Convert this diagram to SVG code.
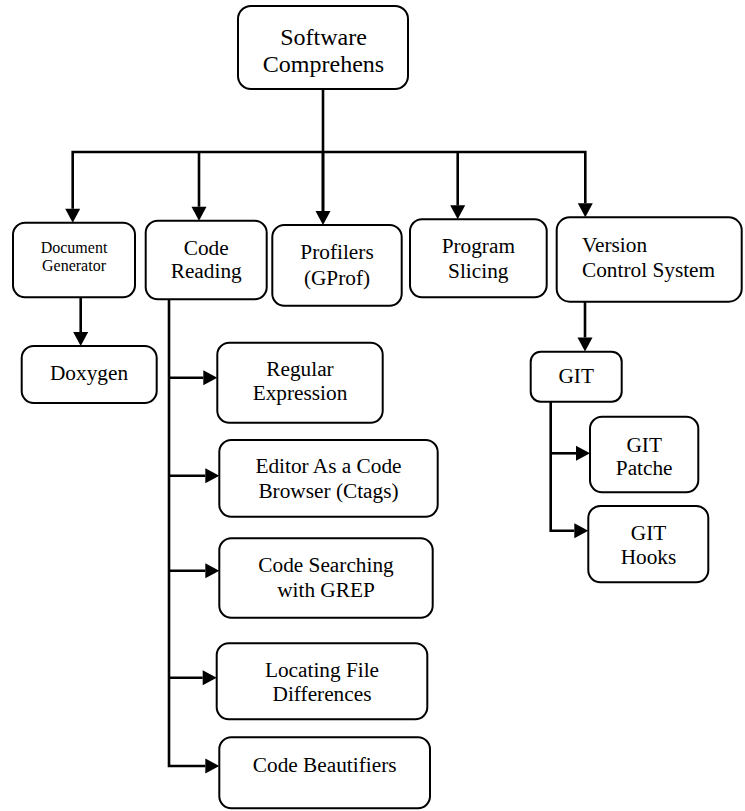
<svg xmlns="http://www.w3.org/2000/svg" width="745" height="811" viewBox="0 0 745 811" font-family="'Liberation Serif', 'Times New Roman', serif">
<style>
.box{fill:#fff;stroke:#000;stroke-width:2}
text{font-family:"Liberation Serif","Times New Roman",serif;fill:#000;text-anchor:middle}
.lbl{font-size:21.3px}
.big{font-size:24px}
.small{font-size:16px}
.c{fill:none;stroke:#000;stroke-width:2.6;stroke-linejoin:miter}
</style>
<defs>
<marker id="ah" markerUnits="userSpaceOnUse" markerWidth="14" markerHeight="16" refX="0" refY="8" orient="auto-start-reverse" overflow="visible">
<path d="M0,0.5 L14,8 L0,15.5 z" fill="#000"/>
</marker>
</defs>
<rect width="745" height="811" fill="#fff"/>
<g id="connectors">
<path class="c" d="M323,89 V212"/>
<path class="c" d="M72.7,208.7 V152 H585.3 V203.3" marker-start="url(#ah)" marker-end="url(#ah)"/>
<path class="c" d="M199,152 V206.7" marker-end="url(#ah)"/>
<path class="c" d="M323,152 V211" marker-end="url(#ah)"/>
<path class="c" d="M457.7,152 V205.3" marker-end="url(#ah)"/>
<path class="c" d="M80.7,297.3 V332" marker-end="url(#ah)"/>
<path class="c" d="M169,299.3 V766 H205.3" marker-end="url(#ah)"/>
<path class="c" d="M169,377.7 H203.3" marker-end="url(#ah)"/>
<path class="c" d="M169,475.7 H205.3" marker-end="url(#ah)"/>
<path class="c" d="M169,570.7 H205.3" marker-end="url(#ah)"/>
<path class="c" d="M169,677.7 H202.7" marker-end="url(#ah)"/>
<path class="c" d="M585,301.7 V337.5" marker-end="url(#ah)"/>
<path class="c" d="M550.7,401.7 V530.7 H574.3" marker-end="url(#ah)"/>
<path class="c" d="M550.7,453.3 H576" marker-end="url(#ah)"/>
</g>
<g id="root">
<rect class="box" x="238" y="6" width="170" height="83" rx="13"/>
<text class="big" x="323.5" y="45">Software</text>
<text class="big" x="323.5" y="72">Comprehens</text>
</g>
<g id="docgen">
<rect class="box" x="13" y="222.7" width="122" height="74.6" rx="12"/>
<text class="small" x="74" y="252.7">Document</text>
<text class="small" x="74" y="270.7">Generator</text>
</g>
<g id="codereading">
<rect class="box" x="145.7" y="220.7" width="121" height="78.6" rx="12"/>
<text class="lbl" x="206.2" y="255">Code</text>
<text class="lbl" x="206.2" y="278">Reading</text>
</g>
<g id="profilers">
<rect class="box" x="272.3" y="225" width="129.4" height="80.7" rx="12"/>
<text class="lbl" x="337" y="259.3">Profilers</text>
<text class="lbl" x="337" y="285">(GProf)</text>
</g>
<g id="slicing">
<rect class="box" x="410" y="219.3" width="136.7" height="78" rx="12"/>
<text class="lbl" x="478.3" y="253">Program</text>
<text class="lbl" x="478.3" y="278">Slicing</text>
</g>
<g id="vcs">
<rect class="box" x="556.7" y="217.3" width="185" height="84.4" rx="13"/>
<text class="lbl" x="582" y="251.7" style="text-anchor:start">Version</text>
<text class="lbl" x="582" y="276.7" style="text-anchor:start">Control System</text>
</g>
<g id="doxygen">
<rect class="box" x="21.7" y="346" width="135" height="57" rx="12"/>
<text class="lbl" x="89" y="380">Doxygen</text>
</g>
<g id="regex">
<rect class="box" x="217.3" y="342.7" width="165.4" height="80" rx="12"/>
<text class="lbl" x="300" y="376">Regular</text>
<text class="lbl" x="300" y="400">Expression</text>
</g>
<g id="editor">
<rect class="box" x="219.3" y="440" width="218.4" height="76.7" rx="12"/>
<text class="lbl" x="328.5" y="473.3">Editor As a Code</text>
<text class="lbl" x="328.5" y="498.3">Browser (Ctags)</text>
</g>
<g id="grep">
<rect class="box" x="219.3" y="538.3" width="213.4" height="79.4" rx="12"/>
<text class="lbl" x="326" y="571.7">Code Searching</text>
<text class="lbl" x="326" y="596.7">with GREP</text>
</g>
<g id="diff">
<rect class="box" x="216.7" y="643.3" width="210.6" height="76" rx="12"/>
<text class="lbl" x="322" y="676.7">Locating File</text>
<text class="lbl" x="322" y="700.7">Differences</text>
</g>
<g id="beautifiers">
<rect class="box" x="219.3" y="737.3" width="210.7" height="71" rx="12"/>
<text class="lbl" x="324.7" y="771.7">Code Beautifiers</text>
</g>
<g id="git">
<rect class="box" x="530.7" y="351.7" width="91" height="50" rx="10"/>
<text class="lbl" x="576.2" y="383.3">GIT</text>
</g>
<g id="gitpatche">
<rect class="box" x="590" y="416.7" width="108.3" height="75.6" rx="12"/>
<text class="lbl" x="644.2" y="451.7">GIT</text>
<text class="lbl" x="644.2" y="475">Patche</text>
</g>
<g id="githooks">
<rect class="box" x="588.3" y="506" width="120" height="76.3" rx="12"/>
<text class="lbl" x="648.5" y="540">GIT</text>
<text class="lbl" x="648.5" y="564">Hooks</text>
</g>
</svg>
